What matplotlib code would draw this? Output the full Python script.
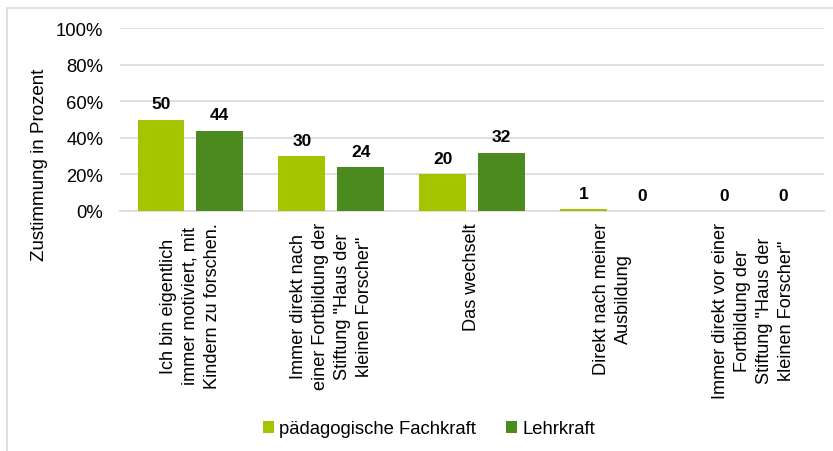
import matplotlib
matplotlib.use("Agg")
import matplotlib.pyplot as plt
import numpy as np

plt.rcParams['font.family'] = ['Liberation Sans', 'DejaVu Sans']

categories = [
    'Ich bin eigentlich\nimmer motiviert, mit\nKindern zu forschen.',
    'Immer direkt nach\neiner Fortbildung der\nStiftung "Haus der\nkleinen Forscher"',
    'Das wechselt',
    'Direkt nach meiner\nAusbildung',
    'Immer direkt vor einer\nFortbildung der\nStiftung "Haus der\nkleinen Forscher"',
]
series_names = ['pädagogische Fachkraft', 'Lehrkraft']
fachkraft = [50, 30, 20, 1, 0]
lehrkraft = [44, 24, 32, 0, 0]
yticks = [0, 20, 40, 60, 80, 100]
ytick_labels = ['0%', '20%', '40%', '60%', '80%', '100%']

light = '#A5C400'
dark = '#4A8A1F'

fig = plt.figure(figsize=(8.33, 4.52), dpi=100)
ax = fig.add_axes([120/833, 1-212/452, 704/833, (212-29.3)/452])

x = np.arange(len(categories))
w = 0.333
off = 0.209
b1 = ax.bar(x - off, fachkraft, w, color=light, label=series_names[0], zorder=3)
b2 = ax.bar(x + off, lehrkraft, w, color=dark, label=series_names[1], zorder=3)

for bars, vals in ((b1, fachkraft), (b2, lehrkraft)):
    for rect, v in zip(bars, vals):
        ax.annotate(f'{v}', (rect.get_x() + rect.get_width()/2, v),
                    xytext=(0, 6), textcoords='offset points',
                    ha='center', va='bottom', fontsize=12.5, fontweight='bold')

ax.set_xlim(-0.5, len(categories) - 0.5)
ax.set_ylim(0, 100)
ax.set_yticks(yticks)
ax.set_yticklabels(ytick_labels, fontsize=13.3)
ax.yaxis.grid(True, color='#D9D9D9', linewidth=1.2, zorder=0)
ax.set_axisbelow(True)
for s in ['top', 'right', 'left']:
    ax.spines[s].set_visible(False)
ax.spines['bottom'].set_color('#D9D9D9')
ax.spines['bottom'].set_linewidth(1.2)
ax.tick_params(axis='both', length=0)
ax.tick_params(axis='y', pad=12)
ax.set_xticks(x)
ax.set_xticklabels(categories, rotation=90, fontsize=13.1, va='top', ha='center',
                   multialignment='center', linespacing=1.39)
ax.tick_params(axis='x', pad=8)

fig.text(40/833, 1-165/452, 'Zustimmung in Prozent', rotation=90,
         ha='center', va='center', fontsize=13.5)

fig.legend(handles=[b1, b2], labels=series_names, loc='center',
           bbox_to_anchor=(429/833, 1-430/452), ncol=2, frameon=False,
           fontsize=13.3, handlelength=0.6, handleheight=0.6, handletextpad=0.3,
           columnspacing=1.6, borderpad=0)

border = plt.Rectangle((7/833, -0.01), 1.0, 1-9/452+0.01, transform=fig.transFigure,
                       fill=False, edgecolor='#D9D9D9', linewidth=1.2)
fig.add_artist(border)

fig.savefig('out.png', dpi=100)
